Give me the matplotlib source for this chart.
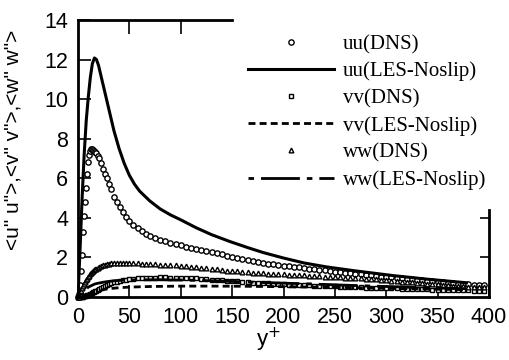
import numpy as np
import matplotlib
matplotlib.use("Agg")
import matplotlib.pyplot as plt

# DNS profiles (y+ grid is dense near the wall)
y_dns = [0, 1, 2, 3, 4, 5, 6, 7, 8, 9, 10, 11, 12, 13, 14, 15, 16, 17, 18, 19, 20,
         22, 24, 26, 28, 30, 32, 35, 38, 41, 44, 47, 50, 54, 58, 62, 66, 70, 75, 80,
         85, 90, 95, 100, 105, 110, 115, 120, 125, 130, 135, 140, 145, 150, 155, 160,
         165, 170, 175, 180, 185, 190, 195, 200, 205, 210, 215, 220, 225, 230, 235,
         240, 245, 250, 255, 260, 265, 270, 275, 280, 285, 290, 295, 300, 305, 310,
         315, 320, 325, 330, 335, 340, 345, 350, 355, 360, 365, 370, 375, 380, 385,
         390, 395]

uu_dns = [0, 0.15, 0.6, 1.3, 2.1, 3.3, 4.1, 4.8, 5.5, 6.2, 6.8, 7.2, 7.4, 7.5, 7.5,
          7.45, 7.4, 7.35, 7.28, 7.15, 7.0, 6.75, 6.45, 6.2, 6.0, 5.7, 5.45, 5.05, 4.8,
          4.55, 4.3, 4.05, 3.85, 3.65, 3.5, 3.35, 3.2, 3.1, 3.0, 2.9, 2.82, 2.75, 2.68,
          2.62, 2.55, 2.47, 2.42, 2.37, 2.31, 2.25, 2.2, 2.15, 2.09, 2.04, 1.99, 1.93,
          1.88, 1.82, 1.76, 1.72, 1.68, 1.65, 1.62, 1.59, 1.56, 1.53, 1.5, 1.47, 1.44,
          1.41, 1.37, 1.34, 1.31, 1.28, 1.25, 1.22, 1.19, 1.17, 1.14, 1.12, 1.09, 1.06,
          1.03, 1.01, 0.99, 0.96, 0.94, 0.91, 0.89, 0.86, 0.84, 0.81, 0.79, 0.76, 0.74,
          0.71, 0.69, 0.67, 0.65, 0.64, 0.63, 0.62, 0.61]

vv_dns = [0, 0, 0, 0.01, 0.01, 0.02, 0.03, 0.04, 0.06, 0.08, 0.1, 0.12, 0.15, 0.17,
          0.2, 0.23, 0.26, 0.29, 0.32, 0.35, 0.38, 0.44, 0.5, 0.55, 0.6, 0.65, 0.69,
          0.74, 0.78, 0.82, 0.85, 0.88, 0.9, 0.92, 0.94, 0.96, 0.97, 0.98, 0.98, 0.99,
          0.99, 0.98, 0.98, 0.97, 0.96, 0.95, 0.94, 0.92, 0.9, 0.88, 0.86, 0.84, 0.82,
          0.8, 0.79, 0.77, 0.75, 0.73, 0.72, 0.7, 0.69, 0.67, 0.66, 0.65, 0.63, 0.62,
          0.61, 0.6, 0.59, 0.58, 0.57, 0.56, 0.55, 0.54, 0.53, 0.52, 0.51, 0.5, 0.49,
          0.48, 0.47, 0.46, 0.45, 0.45, 0.44, 0.43, 0.42, 0.41, 0.4, 0.39, 0.38, 0.38,
          0.37, 0.36, 0.36, 0.35, 0.34, 0.34, 0.33, 0.33, 0.32, 0.32, 0.32]

ww_dns = [0, 0.02, 0.15, 0.3, 0.45, 0.55, 0.65, 0.75, 0.85, 0.93, 1.0, 1.07, 1.14,
          1.2, 1.25, 1.3, 1.35, 1.4, 1.44, 1.48, 1.51, 1.56, 1.6, 1.63, 1.66, 1.68,
          1.7, 1.71, 1.72, 1.72, 1.72, 1.72, 1.72, 1.71, 1.7, 1.69, 1.68, 1.67, 1.66,
          1.64, 1.63, 1.62, 1.6, 1.58, 1.56, 1.53, 1.5, 1.47, 1.45, 1.42, 1.39, 1.36,
          1.33, 1.31, 1.29, 1.27, 1.25, 1.23, 1.21, 1.2, 1.18, 1.17, 1.16, 1.15, 1.13,
          1.12, 1.1, 1.09, 1.07, 1.06, 1.05, 1.03, 1.02, 1.0, 0.99, 0.98, 0.97, 0.96,
          0.95, 0.93, 0.91, 0.89, 0.87, 0.85, 0.83, 0.8, 0.78, 0.76, 0.74, 0.72, 0.7,
          0.68, 0.66, 0.64, 0.62, 0.6, 0.58, 0.56, 0.54, 0.53, 0.52, 0.51, 0.5]

# LES (no-slip) profiles
y_les = [0, 2, 4, 6, 8, 10, 12, 14, 16, 18, 20, 25, 30, 35, 40, 45, 50, 55, 60, 70,
         80, 90, 100, 115, 130, 148, 165, 180, 200, 220, 242, 270, 307, 340, 378]
uu_les = [0, 2.4, 5.0, 7.2, 8.9, 10.1, 11.1, 11.8, 12.08, 12.0, 11.7, 10.6, 9.5, 8.4,
          7.5, 6.75, 6.15, 5.7, 5.35, 4.85, 4.45, 4.15, 3.9, 3.5, 3.15, 2.8, 2.5, 2.25,
          1.97, 1.72, 1.52, 1.32, 1.08, 0.9, 0.72]
ww_les = [0, 0.1, 0.2, 0.3, 0.4, 0.5, 0.55, 0.6, 0.65, 0.68, 0.7, 0.75, 0.79, 0.82,
          0.84, 0.85, 0.86, 0.86, 0.87, 0.87, 0.87, 0.86, 0.86, 0.84, 0.82, 0.79, 0.76,
          0.73, 0.7, 0.67, 0.63, 0.58, 0.52, 0.47, 0.42]
y_les_v = [22, 30, 40, 50, 70, 100, 130, 165, 200, 242, 270, 307, 340, 378]
vv_les = [0.35, 0.42, 0.47, 0.5, 0.53, 0.55, 0.55, 0.54, 0.52, 0.49, 0.47, 0.43, 0.4, 0.37]

plt.rcParams['font.family'] = ['Liberation Sans', 'DejaVu Sans']

fig = plt.figure(figsize=(5.1, 3.6), dpi=100)
ax = fig.add_axes([78 / 510, 1 - 297 / 360, 411 / 510, 277 / 360])

mk = dict(linestyle='none', markerfacecolor='white', markeredgecolor='black',
          markeredgewidth=1.0, clip_on=False)
ax.plot(y_dns, uu_dns, marker='o', markersize=3.8, label='uu(DNS)', **mk)
ax.plot(y_les, uu_les, color='black', lw=2.2, label='uu(LES-Noslip)')
ax.plot(y_dns, vv_dns, marker='s', markersize=3.4, label='vv(DNS)', **mk)
ax.plot(y_les_v, vv_les, color='black', lw=2.0, linestyle=(0, (2.5, 1.5)),
        label='vv(LES-Noslip)')
ax.plot(y_dns, ww_dns, marker='^', markersize=3.4, label='ww(DNS)', **mk)
ax.plot(y_les, ww_les, color='black', lw=2.0, linestyle=(0, (2, 2.5, 14, 2.5)),
        label='ww(LES-Noslip)')

ax.set_xlim(0, 400)
ax.set_ylim(0, 14)
ax.set_xticks(np.arange(0, 401, 50))
ax.set_yticks(np.arange(0, 15, 2))
ax.tick_params(direction='in', length=9, width=1.2, labelsize=15.5, pad=7)

for s in ax.spines.values():
    s.set_linewidth(2.0)
ax.spines['top'].set_bounds(0, 150)
ax.spines['right'].set_bounds(0, 4.4)

# partial top / right tick marks
ax.vlines([50, 100], 14 - 0.7, 14, color='black', lw=1.2)
ax.hlines([2, 4], 400 - 9, 400, color='black', lw=1.2)

ax.set_xlabel('y$^{+}$', fontsize=16)
ax.xaxis.set_label_coords((268 - 78) / 411, -29 / 277)
fig.text(13 / 510, 1 - 140 / 360, '<u" u">,<v" v">,<w" w">', rotation=90,
         ha='center', va='center', fontsize=15)

leg = ax.legend(loc='upper left', bbox_to_anchor=(238 / 510, 1 - 24 / 360),
                bbox_transform=fig.transFigure, frameon=False, handlelength=4.1,
                handletextpad=0.45, labelspacing=0.36, borderpad=0,
                prop={'family': 'Liberation Serif', 'size': 15})

fig.savefig('out.png', dpi=100)
